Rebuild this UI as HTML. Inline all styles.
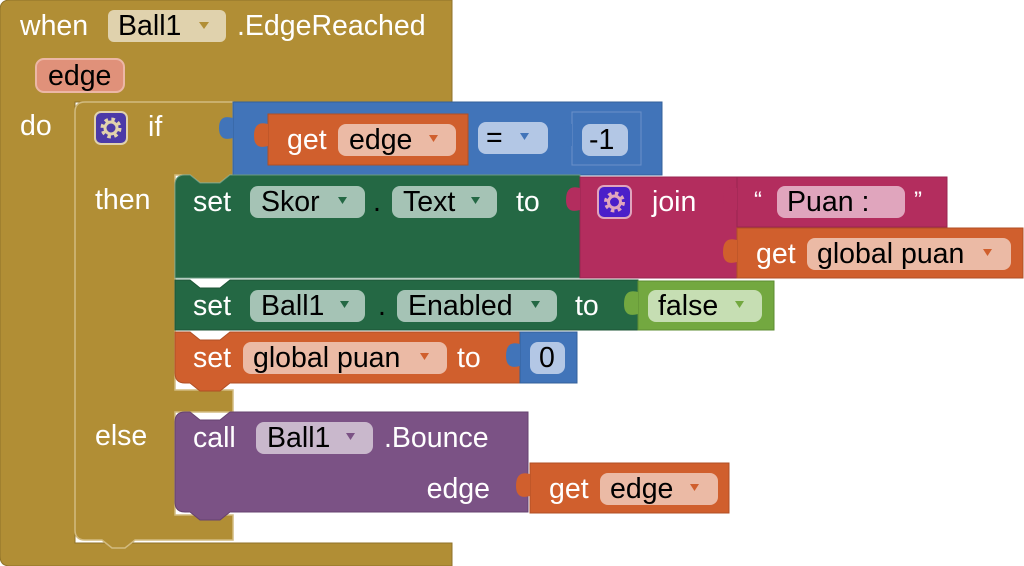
<!DOCTYPE html>
<html><head><meta charset="utf-8"><style>
html,body{margin:0;padding:0;background:#fff;width:1024px;height:566px;overflow:hidden}
svg text{font-family:"Liberation Sans",sans-serif;font-size:28.5px}
.w{fill:#fff}.k{fill:#000}
</style></head><body>
<svg width="1024" height="566" viewBox="0 0 1024 566" xmlns="http://www.w3.org/2000/svg">
<!-- event block -->
<path d="M10,0 H452 V102 H120 L110,110 H92 L82,102 H75 V543 H452 V566 H10 Q0,566 0,556 V10 Q0,0 10,0 Z" fill="#B18E35" stroke="#8f7229" stroke-width="1"/>
<text x="20" y="35" class="w">when</text>
<rect x="108" y="10" width="118" height="32" rx="6" fill="#e0d2ad"/>
<text x="118" y="35" class="k">Ball1</text><path d="M199,22 h10 l-5,7z" fill="#B18E35"/>
<text x="237" y="35" class="w">.EdgeReached</text>
<rect x="36" y="59" width="88" height="33" rx="8" fill="#e0917a" stroke="#ecb7a6" stroke-width="2"/>
<text x="48" y="85" class="k">edge</text>
<text x="20" y="135" class="w">do</text>
<!-- if block -->
<path d="M85,102 H233 V175 H230 L220,183 H200 L190,175 H175 V390 H233 V412 H175 V515 H233 V540 H135 L125,548 H112 L102,540 H85 Q75,540 75,530 V112 Q75,102 85,102 Z" fill="#B18E35" stroke="#d2bb80" stroke-width="1.5"/>
<rect x="95" y="112" width="32" height="32" rx="6" fill="#4b3aa8" stroke="#e0d2ad" stroke-width="2"/>
<circle cx="111" cy="128" r="8" fill="none" stroke="#e0d2ad" stroke-width="5" stroke-dasharray="3.2 3.1"/>
<circle cx="111" cy="128" r="6" fill="none" stroke="#e0d2ad" stroke-width="3"/>
<text x="148" y="136" class="w">if</text>
<text x="95" y="209" class="w">then</text>
<text x="95" y="445" class="w">else</text>
<!-- compare block -->
<rect x="233" y="102" width="429" height="73" fill="#4174B9" stroke="#34609a"/>
<path d="M233,118 q-14,-4 -14,10 q0,14 14,10z" fill="#4174B9"/>
<rect x="268" y="114" width="200" height="51" fill="#D05F2D" stroke="#b04f25"/>
<path d="M268,124 q-14,-4 -14,12 q0,14 14,10z" fill="#D05F2D"/>
<text x="287" y="149" class="w">get</text>
<rect x="338" y="124" width="118" height="32" rx="8" fill="#ebbaa5"/>
<text x="349" y="149" class="k">edge</text><path d="M429,135 h9 l-4.5,7z" fill="#D05F2D"/>
<rect x="478" y="122" width="70" height="32" rx="8" fill="#b3c7e5"/>
<text x="486" y="147" class="k">=</text><path d="M520,133 h9 l-4.5,7z" fill="#4174B9"/>
<rect x="572" y="112" width="69" height="53" fill="#4174B9" stroke="#6b91c9"/>
<path d="M572,124 q-14,-4 -14,12 q0,14 14,10z" fill="#4174B9"/>
<rect x="582" y="124" width="46" height="32" rx="8" fill="#b3c7e5"/>
<text x="589" y="149" class="k">-1</text>
<!-- set Skor.Text -->
<path d="M185,175 H190 L200,183 H220 L230,175 H580 V278 H175 V185 Q175,175 185,175Z" fill="#246844" stroke="#6a9a80"/>
<text x="193" y="211" class="w">set</text>
<rect x="250" y="186" width="115" height="32" rx="8" fill="#a5c3b5"/>
<text x="261" y="211" class="k">Skor</text><path d="M338,197 h9 l-4.5,7z" fill="#246844"/>
<text x="373" y="211" class="k">.</text>
<rect x="392" y="186" width="105" height="32" rx="8" fill="#a5c3b5"/>
<text x="403" y="211" class="k">Text</text><path d="M471,197 h9 l-4.5,7z" fill="#246844"/>
<text x="516" y="211" class="w">to</text>
<!-- join -->
<rect x="580" y="177" width="157" height="101" fill="#B32D5E" stroke="#9a2550"/>
<path d="M580,188 q-14,-4 -14,12 q0,14 14,10z" fill="#B32D5E"/>
<rect x="598" y="186" width="33" height="32" rx="6" fill="#4b1fc9" stroke="#e0a5bd" stroke-width="2"/>
<circle cx="614.5" cy="202" r="8" fill="none" stroke="#e0a5bd" stroke-width="5" stroke-dasharray="3.2 3.1"/>
<circle cx="614.5" cy="202" r="6" fill="none" stroke="#e0a5bd" stroke-width="3"/>
<text x="652" y="211" class="w">join</text>
<rect x="737" y="177" width="210" height="50" fill="#B32D5E" stroke="#9a2550"/>
<path d="M737,188 q-14,-4 -14,12 q0,14 14,10z" fill="#B32D5E"/>
<text x="754" y="208" class="w" style="font-size:24px">“</text>
<rect x="777" y="186" width="128" height="32" rx="8" fill="#e0a5bd"/>
<text x="787" y="211" class="k">Puan  :</text>
<text x="914" y="208" class="w" style="font-size:24px">”</text>
<rect x="737" y="228" width="286" height="50" fill="#D05F2D" stroke="#b04f25"/>
<path d="M737,240 q-14,-4 -14,12 q0,14 14,10z" fill="#D05F2D"/>
<text x="756" y="263" class="w">get</text>
<rect x="807" y="238" width="204" height="32" rx="8" fill="#ebbaa5"/>
<text x="817" y="263" class="k">global puan</text><path d="M983,249 h9 l-4.5,7z" fill="#D05F2D"/>
<!-- set Ball1.Enabled -->
<path d="M175,280 H190 L200,288 H220 L230,280 H638 V330 H175Z" fill="#246844" stroke="#1d5536"/>
<text x="193" y="315" class="w">set</text>
<rect x="250" y="290" width="115" height="32" rx="8" fill="#a5c3b5"/>
<text x="261" y="315" class="k">Ball1</text><path d="M340,301 h9 l-4.5,7z" fill="#246844"/>
<text x="378" y="315" class="k">.</text>
<rect x="397" y="290" width="160" height="32" rx="8" fill="#a5c3b5"/>
<text x="408" y="315" class="k">Enabled</text><path d="M531,301 h9 l-4.5,7z" fill="#246844"/>
<text x="575" y="315" class="w">to</text>
<rect x="638" y="281" width="136" height="49" fill="#73A840" stroke="#5e8d32"/>
<path d="M638,292 q-14,-4 -14,12 q0,14 14,10z" fill="#73A840"/>
<rect x="648" y="290" width="114" height="32" rx="8" fill="#c6deb3"/>
<text x="658" y="315" class="k">false</text><path d="M735,301 h9 l-4.5,7z" fill="#73A840"/>
<!-- set global puan -->
<path d="M175,332 H190 L200,340 H220 L230,332 H520 V383 H230 L220,391 H200 L190,383 H185 Q175,383 175,373Z" fill="#D05F2D" stroke="#b04f25"/>
<text x="193" y="367" class="w">set</text>
<rect x="243" y="342" width="204" height="32" rx="8" fill="#ebbaa5"/>
<text x="253" y="367" class="k">global puan</text><path d="M420,353 h9 l-4.5,7z" fill="#D05F2D"/>
<text x="457" y="367" class="w">to</text>
<rect x="520" y="332" width="57" height="51" fill="#4174B9" stroke="#34609a"/>
<path d="M520,344 q-14,-4 -14,12 q0,14 14,10z" fill="#4174B9"/>
<rect x="530" y="342" width="35" height="32" rx="8" fill="#b3c7e5"/>
<text x="539" y="367" class="k">0</text>
<!-- call Ball1.Bounce -->
<path d="M185,412 H190 L200,420 H220 L230,412 H528 V512 H230 L220,520 H200 L190,512 H185 Q175,512 175,502 V422 Q175,412 185,412Z" fill="#7B5285" stroke="#66426f"/>
<text x="193" y="447" class="w">call</text>
<rect x="256" y="422" width="117" height="32" rx="8" fill="#c9b8cc"/>
<text x="267" y="447" class="k">Ball1</text><path d="M346,433 h9 l-4.5,7z" fill="#7B5285"/>
<text x="384" y="447" class="w">.Bounce</text>
<text x="490" y="498" text-anchor="end" class="w">edge</text>
<rect x="530" y="463" width="199" height="50" fill="#D05F2D" stroke="#b04f25"/>
<path d="M530,474 q-14,-4 -14,12 q0,14 14,10z" fill="#D05F2D"/>
<text x="549" y="498" class="w">get</text>
<rect x="600" y="473" width="118" height="32" rx="8" fill="#ebbaa5"/>
<text x="610" y="498" class="k">edge</text><path d="M690,484 h9 l-4.5,7z" fill="#D05F2D"/>
</svg>
</body></html>
